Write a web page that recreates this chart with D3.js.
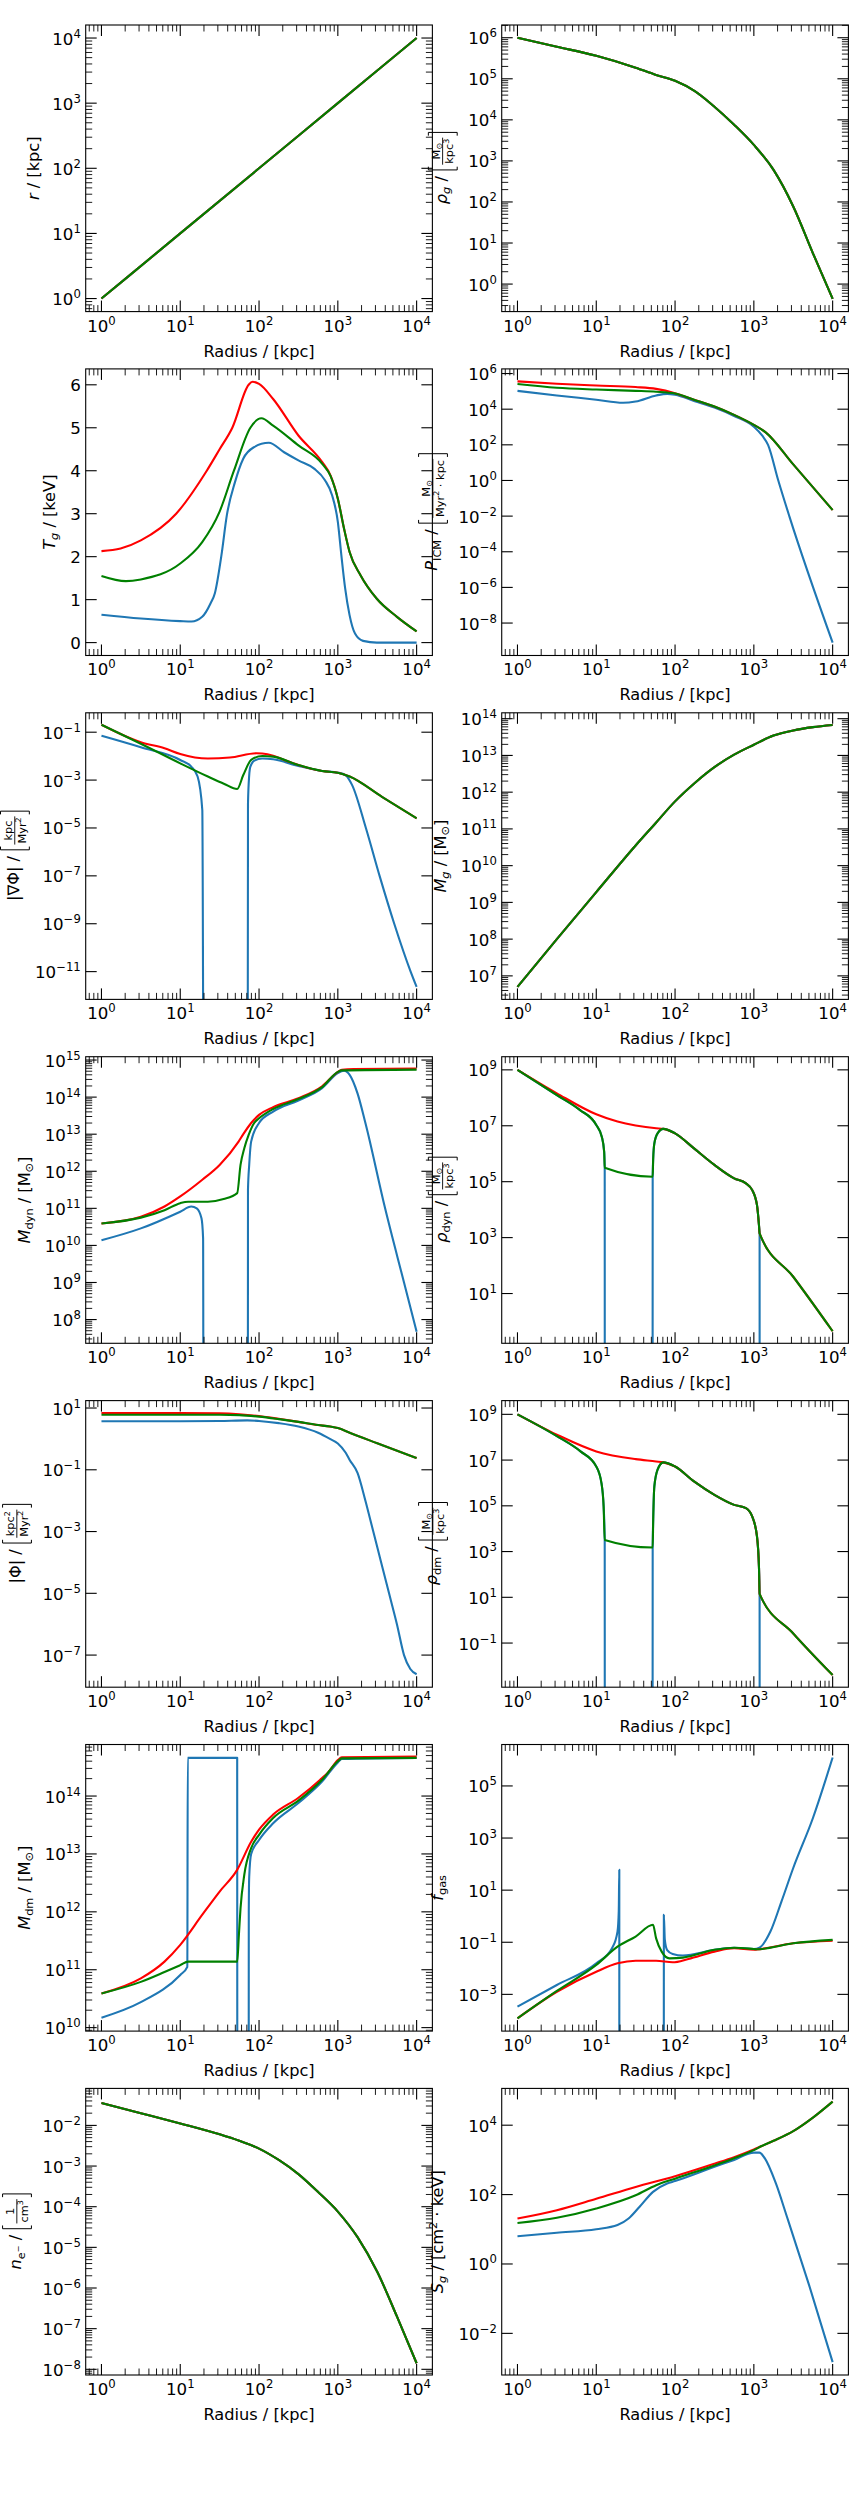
<!DOCTYPE html>
<html><head><meta charset="utf-8">
<script src="https://cdn.jsdelivr.net/npm/d3@7"></script>
<style>body{margin:0;background:#fff}svg{display:block}text{font-family:"DejaVu Sans",sans-serif;fill:#000;white-space:pre}</style>
</head><body>
<svg id="chart" width="857" height="2500"></svg>
<script>
// ---------------- data (radius [kpc], value) ----------------
const xTickExp = [0, 1, 2, 3, 4];
const radiusLine = [[1,1],[10,10],[100,100],[1000,1000],[10000,10000]];
const rhoGas = [[1,1e6],[3.16,6.03e5],[10,3.63e5],[31.6,1.86e5],[56.2,1.26e5],[100,8.91e4],[178,5.01e4],[316,2.09e4],[562,7.59e3],[1000,2.45e3],[1778,603],[3162,77.6],[5623,5.62],[10000,0.437]];
const tempRed = [[1,2.13],[1.75,2.19],[3.16,2.38],[8.87,3.0],[21.7,4.0],[31.6,4.5],[45.8,5.0],[73.8,6.0],[82.6,6.07],[100,6.02],[151,5.67],[316,4.82],[634,4.2],[807,3.89],[1000,3.35],[1200,2.65],[1410,2.11],[1940,1.57],[3125,1.02],[5630,0.6],[10000,0.26]];
const tempGreen = [[1,1.55],[2.04,1.43],[3.16,1.47],[10,1.84],[19,2.34],[31.6,3.05],[48,4.0],[77.6,5.0],[107,5.22],[151,5.05],[316,4.59],[634,4.16],[807,3.88],[1000,3.35],[1200,2.65],[1410,2.11],[1940,1.57],[3125,1.02],[5630,0.6],[10000,0.26]];
const tempBlue = [[1,0.65],[3.16,0.56],[10,0.5],[13.9,0.49],[19,0.6],[24.2,0.91],[27.5,1.15],[33.3,2.03],[39,2.96],[49.6,3.74],[63,4.28],[86.5,4.55],[133,4.65],[208,4.43],[316,4.24],[500,4.05],[687,3.78],[845,3.43],[1000,2.81],[1109,2.03],[1239,1.26],[1409,0.64],[1652,0.21],[2089,0.04],[3126,0],[10000,0]];
const pressRed = [[1,3.63e5],[3.16,2.69e5],[10,2.14e5],[31.6,1.74e5],[57.5,1.38e5],[100,7.94e4],[174,3.39e4],[316,1.41e4],[562,4.79e3],[1000,1.32e3],[1413,501],[3162,7.94],[10000,2.19e-2]];
const pressGreen = [[1,2.57e5],[3.16,1.58e5],[10,1.26e5],[31.6,1.07e5],[57.5,9.55e4],[100,7.59e4],[174,3.39e4],[316,1.41e4],[562,4.79e3],[1000,1.32e3],[1413,501],[3162,7.94],[10000,2.19e-2]];
const pressBlue = [[1,1.07e5],[3.16,5.89e4],[10,3.39e4],[21.9,2.29e4],[31.6,2.69e4],[57.5,5.89e4],[79.4,7.24e4],[100,6.46e4],[178,2.82e4],[316,1.23e4],[562,4.17e3],[1000,1.05e3],[1288,316],[1514,100],[2042,1],[2818,1e-2],[10000,7.94e-10]];
const gradRed = [[1,0.204],[3.16,3.8e-2],[6.31,2.14e-2],[10,1.23e-2],[22.4,7.94e-3],[42.7,8.71e-3],[93.3,1.32e-2],[110,1.29e-2],[151,1.05e-2],[209,6.92e-3],[316,4.27e-3],[631,2.4e-3],[1000,2.04e-3],[1413,1.41e-3],[3631,2.0e-4],[10000,2.51e-5]];
const gradGreen = [[1,0.204],[3.16,3.31e-2],[10,5.01e-3],[22.4,1.41e-3],[36.3,6.92e-4],[52.8,4.27e-4],[63.1,1.62e-3],[79.4,6.92e-3],[110,1.02e-2],[151,9.55e-3],[316,4.27e-3],[631,2.4e-3],[1000,2.04e-3],[1413,1.41e-3],[3631,2.0e-4],[10000,2.51e-5]];
const gradBlue = [[1,7.08e-2],[3.16,2.34e-2],[10,6.92e-3],[13.8,3.63e-3],[16.6,1.41e-3],[19.05,5.62e-5],[19.95,1e-20],[71.6,1e-20],[72.4,1e-4],[75,1.58e-3],[77.6,3.63e-3],[87.1,6.46e-3],[110,7.94e-3],[151,7.41e-3],[316,3.89e-3],[631,2.4e-3],[1000,2.04e-3],[1259,1.58e-3],[1514,6.31e-4],[2270,1e-5],[3388,1e-7],[5200,1e-9],[8395,1e-11],[10000,2.29e-12]];
const massGas = [[1,5.01e6],[3.16,1e8],[10,1.91e9],[31.6,3.55e10],[56.2,1.41e11],[100,5.62e11],[178,1.78e12],[316,4.79e12],[562,1.05e13],[1000,1.95e13],[1778,3.47e13],[3162,4.79e13],[5623,5.89e13],[10000,6.76e13]];
const mdynRed = [[1,3.89e10],[3.16,5.89e10],[6.31,1.12e11],[10,2.09e11],[19.05,5.89e11],[31.6,1.48e12],[55,6.31e12],[63.1,1e13],[79.4,2e13],[100,3.31e13],[151,5.37e13],[316,9.33e13],[631,1.95e14],[1000,4.79e14],[1122,5.5e14],[1585,5.75e14],[10000,5.89e14]];
const mdynGreen = [[1,3.89e10],[3.16,5.62e10],[6.31,8.91e10],[10,1.38e11],[12.6,1.51e11],[22.4,1.51e11],[35.5,1.78e11],[52.8,2.57e11],[58.2,1.48e12],[65,4.17e12],[73.8,9.55e12],[86.7,2e13],[100,2.69e13],[151,4.79e13],[316,8.91e13],[631,1.86e14],[1000,4.79e14],[1122,5.25e14],[10000,5.5e14]];
const mdynBlue = [[1,1.38e10],[3.16,2.88e10],[10,8.13e10],[13.8,1.12e11],[16.2,1e11],[18.6,5.37e10],[19.5,1.55e10],[19.95,1e-5],[71.6,1e-5],[72.4,3.16e11],[75,1.48e12],[79.4,6.31e12],[100,2e13],[151,4.07e13],[316,8.13e13],[631,1.74e14],[1000,4.47e14],[1202,5.13e14],[1413,3.98e14],[1778,1.26e14],[2239,2e13],[3981,1e11],[6918,1e9],[10000,4.68e7]];
const rhoDynRed = [[1,1e9],[3.16,1.45e8],[10,2.57e7],[18.6,1.41e7],[31.6,1.02e7],[57.5,8.13e6],[70.8,7.76e6],[100,5.37e6],[174,1.55e6],[316,3.98e5],[562,1.32e5],[794,8.71e4],[955,5.01e4],[1096,1.45e4],[1161,2.82e3],[1183,1.41e3],[3162,39.8],[10000,0.447]];
const rhoDynGreen = [[1,1e9],[3.16,1.26e8],[6.17,3.72e7],[10,1.07e7],[11.75,4.07e6],[12.6,1.17e6],[12.8,3.16e5],[52,1.51e5],[52.8,6.92e5],[54.6,2.34e6],[60,5.37e6],[70.8,7.76e6],[100,5.37e6],[174,1.55e6],[316,3.98e5],[562,1.32e5],[794,8.71e4],[955,5.01e4],[1096,1.45e4],[1161,2.82e3],[1183,1.41e3],[3162,39.8],[10000,0.447]];
const rhoDynBlue = [[1,1e9],[3.16,1.26e8],[6.17,3.72e7],[10,1.07e7],[11.75,4.07e6],[12.6,1.17e6],[12.8,3.16e5],[12.85,1e-10],[51.8,1e-10],[52,1.51e5],[52.8,6.92e5],[54.6,2.34e6],[60,5.37e6],[70.8,7.76e6],[100,5.37e6],[174,1.55e6],[316,3.98e5],[562,1.32e5],[794,8.71e4],[955,5.01e4],[1096,1.45e4],[1161,2.82e3],[1183,1.41e3],[1186,1e-10]];
const phiRed = [[1,6.92],[10,6.92],[31.6,6.76],[56.2,6.31],[100,5.5],[178,4.47],[316,3.55],[562,2.82],[794,2.51],[1000,2.24],[1413,1.58],[3162,0.724],[10000,0.24]];
const phiGreen = [[1,6.03],[10,6.03],[31.6,6.03],[56.2,5.89],[100,5.25],[178,4.37],[316,3.55],[562,2.82],[794,2.51],[1000,2.24],[1413,1.58],[3162,0.724],[10000,0.24]];
const phiBlue = [[1,3.72],[10,3.72],[31.6,3.8],[70.8,3.98],[100,3.8],[178,3.24],[316,2.51],[562,1.58],[794,1.0],[1000,0.708],[1259,0.355],[1413,0.209],[1778,7.94e-2],[2239,1e-2],[2818,1e-3],[3548,1e-4],[4467,1e-5],[5623,1e-6],[6918,1e-7],[8318,3.55e-8],[10000,2.4e-8]];
const rhoDmRed = [[1,1e9],[3.16,1.29e8],[10,2.4e7],[31.6,1.1e7],[57.5,8.71e6],[70.8,7.94e6],[100,5.25e6],[174,1.17e6],[316,3.02e5],[562,1.1e5],[794,7.94e4],[955,3.39e4],[1096,4.57e3],[1161,219],[1183,14.1],[3162,0.263],[10000,3.98e-3]];
const rhoDmGreen = [[1,1e9],[3.16,1.12e8],[6.31,2.4e7],[10,5.25e6],[11.64,9.77e5],[12.4,9.33e4],[12.8,3.24e3],[52,1.51e3],[52.8,2.45e4],[54.6,7.08e5],[60,3.8e6],[70.8,7.94e6],[100,5.25e6],[174,1.17e6],[316,3.02e5],[562,1.1e5],[794,7.94e4],[955,3.39e4],[1096,4.57e3],[1161,219],[1183,14.1],[3162,0.263],[10000,3.98e-3]];
const rhoDmBlue = [[1,1e9],[3.16,1.12e8],[6.31,2.4e7],[10,5.25e6],[11.64,9.77e5],[12.4,9.33e4],[12.8,3.24e3],[12.85,1e-10],[51.8,1e-10],[52,1.51e3],[52.8,2.45e4],[54.6,7.08e5],[60,3.8e6],[70.8,7.94e6],[100,5.25e6],[174,1.17e6],[316,3.02e5],[562,1.1e5],[794,7.94e4],[955,3.39e4],[1096,4.57e3],[1161,219],[1183,14.1],[1186,1e-10]];
const mdmRed = [[1,3.89e10],[3.16,7.08e10],[6.31,1.38e11],[10,2.69e11],[19.05,8.91e11],[31.6,2.24e12],[52.5,5.25e12],[79.4,1.62e13],[100,2.63e13],[151,4.79e13],[316,9.33e13],[631,2.04e14],[741,2.51e14],[1000,4.17e14],[1122,4.68e14],[10000,4.79e14]];
const mdmGreen = [[1,3.89e10],[3.16,6.17e10],[6.31,9.12e10],[10,1.2e11],[12.6,1.38e11],[52.8,1.38e11],[55.5,3.98e11],[58.2,1.15e12],[65,4.37e12],[79.4,1.26e13],[100,2.14e13],[151,4.17e13],[316,8.32e13],[631,1.91e14],[1000,3.98e14],[1122,4.47e14],[10000,4.57e14]];
const mdmBlue = [[1,1.48e10],[3.16,2.75e10],[10,8.13e10],[12.3,1.12e11],[12.45,4.57e14],[52.8,4.57e14],[53.1,1e5],[73.8,1e5],[74.1,1e12],[75,3.98e12],[79.4,1e13],[100,1.74e13],[151,3.39e13],[316,7.59e13],[631,1.78e14],[1000,3.8e14],[1122,4.37e14],[10000,4.57e14]];
const fgasRed = [[1,1.2e-4],[3.16,1.26e-3],[10,7.41e-3],[18.6,1.55e-2],[31.6,1.95e-2],[57.5,1.95e-2],[93.3,1.7e-2],[148,2.29e-2],[316,4.37e-2],[562,5.89e-2],[1000,5.13e-2],[1096,5.25e-2],[3162,9.12e-2],[10000,0.115]];
const fgasGreen = [[1,1.2e-4],[3.16,1.35e-3],[10,1.35e-2],[18.6,6.76e-2],[31.6,0.166],[52.5,0.468],[57.5,0.141],[67.6,4.37e-2],[85.1,2.4e-2],[126,2.57e-2],[316,5.13e-2],[562,6.17e-2],[1000,5.5e-2],[1096,5.37e-2],[3162,9.12e-2],[10000,0.123]];
const fgasBlue = [[1,3.39e-4],[3.16,2.29e-3],[10,1.55e-2],[15.85,5.89e-2],[18.6,0.257],[19.3,1.58],[19.6,60.3],[19.62,1e-10],[71.9,1e-10],[72.1,1.12],[74.1,0.126],[79.4,5.01e-2],[93.3,3.55e-2],[126,3.09e-2],[316,5.13e-2],[562,6.17e-2],[1000,5.5e-2],[1175,6.17e-2],[1622,0.257],[2239,3.63],[3162,70.8],[5623,5.89e3],[10000,1.23e6]];
const neData = [[1,3.55e-2],[3.16,2.0e-2],[10,1.12e-2],[31.6,6.03e-3],[56.2,4.17e-3],[100,2.69e-3],[178,1.41e-3],[316,6.31e-4],[562,2.29e-4],[1000,7.59e-5],[1778,1.78e-5],[3162,2.51e-6],[5623,2.0e-7],[10000,1.41e-8]];
const entRed = [[1,20.4],[3.16,35.5],[10,75.9],[31.6,166],[100,339],[316,776],[562,1.2e3],[1000,2.0e3],[1259,2.51e3],[1778,3.55e3],[3162,6.76e3],[5623,1.66e4],[10000,4.79e4]];
const entGreen = [[1,15.1],[3.16,21.4],[10,39.8],[31.6,95.5],[57.5,186],[100,288],[316,692],[562,1.12e3],[1000,1.91e3],[1259,2.51e3],[1778,3.55e3],[3162,6.76e3],[5623,1.66e4],[10000,4.79e4]];
const entBlue = [[1,6.31],[3.16,7.94],[10,10],[18.6,13.2],[25.7,20.4],[35.5,44.7],[52.5,120],[79.4,209],[100,245],[316,631],[562,1e3],[1000,1.62e3],[1175,1.62e3],[1380,1.1e3],[1905,209],[2630,22.9],[5012,0.251],[10000,1.48e-3]];

// tick label exponents per panel
const ticksR = [0,1,2,3,4];
const ticksRhoG = [0,1,2,3,4,5,6];
const ticksT = [0,1,2,3,4,5,6];
const ticksP = [-8,-6,-4,-2,0,2,4,6];
const ticksGrad = [-11,-9,-7,-5,-3,-1];
const ticksMg = [7,8,9,10,11,12,13,14];
const ticksMdyn = [8,9,10,11,12,13,14,15];
const ticksRhoDyn = [1,3,5,7,9];
const ticksPhi = [-7,-5,-3,-1,1];
const ticksRhoDm = [-1,1,3,5,7,9];
const ticksMdm = [10,11,12,13,14];
const ticksFgas = [-3,-1,1,3,5];
const ticksNe = [-8,-7,-6,-5,-4,-3,-2];
const ticksS = [-2,0,2,4];

// axis labels (math tokens)
const FRAC_MSUN_KPC3 = ['frac', [['t','M'],['sub','⊙']], [['t','kpc'],['sup','3']]];
const labR = [['t','r',1],['t',' / [kpc]']];
const labRhoG = [['t','ρ',1],['sub','g',1],['t',' / '],FRAC_MSUN_KPC3];
const labT = [['t','T',1],['sub','g',1],['t',' / [keV]']];
const labP = [['t','P',1],['sub','ICM'],['t',' / '],['frac', [['t','M'],['sub','⊙']], [['t','Myr'],['sup','2'],['t',' · kpc']]]];
const labGrad = [['t','|∇Φ|'],['t',' / '],['frac', [['t','kpc']], [['t','Myr'],['sup','2']]]];
const labMg = [['t','M',1],['sub','g',1],['t',' / [M'],['sub','⊙'],['t',']']];
const labMdyn = [['t','M',1],['sub','dyn'],['t',' / [M'],['sub','⊙'],['t',']']];
const labRhoDyn = [['t','ρ',1],['sub','dyn'],['t',' / '],FRAC_MSUN_KPC3];
const labPhi = [['t','|Φ|'],['t',' / '],['frac', [['t','kpc'],['sup','2']], [['t','Myr'],['sup','2']]]];
const labRhoDm = [['t','ρ',1],['sub','dm'],['t',' / '],FRAC_MSUN_KPC3];
const labMdm = [['t','M',1],['sub','dm'],['t',' / [M'],['sub','⊙'],['t',']']];
const labFgas = [['t','f',1],['sub','gas']];
const labNe = [['t','n',1],['sub','e'],['subsup','−'],['t',' / '],['frac', [['t','1']], [['t','cm'],['sup','3']]]];
const labS = [['t','S',1],['sub','g',1],['t',' / [cm'],['sup','2'],['t',' · keV]']];

const P = (a,b) => [Math.pow(10,a), Math.pow(10,b)];
const panels = [
 {row:0,col:0,yDomain:P(-0.2,4.2),ticks:ticksR,minor:true,label:labR,series:[[radiusLine,'blue'],[radiusLine,'red'],[radiusLine,'green']]},
 {row:0,col:1,yDomain:P(-0.67,6.31),ticks:ticksRhoG,minor:true,label:labRhoG,series:[[rhoGas,'blue'],[rhoGas,'red'],[rhoGas,'green']]},
 {row:1,col:0,yDomain:[-0.30,6.37],linear:true,ticks:ticksT,label:labT,series:[[tempBlue,'blue'],[tempRed,'red'],[tempGreen,'green']]},
 {row:1,col:1,yDomain:P(-9.82,6.26),ticks:ticksP,label:labP,series:[[pressBlue,'blue'],[pressRed,'red'],[pressGreen,'green']]},
 {row:2,col:0,yDomain:P(-12.16,-0.19),ticks:ticksGrad,label:labGrad,series:[[gradBlue,'blue'],[gradRed,'red'],[gradGreen,'green']]},
 {row:2,col:1,yDomain:P(6.36,14.16),ticks:ticksMg,minor:true,label:labMg,series:[[massGas,'blue'],[massGas,'red'],[massGas,'green']]},
 {row:3,col:0,yDomain:P(7.36,15.09),ticks:ticksMdyn,minor:true,label:labMdyn,series:[[mdynBlue,'blue'],[mdynRed,'red'],[mdynGreen,'green']]},
 {row:3,col:1,yDomain:P(-0.78,9.47),ticks:ticksRhoDyn,label:labRhoDyn,series:[[rhoDynBlue,'blue'],[rhoDynRed,'red'],[rhoDynGreen,'green']]},
 {row:4,col:0,yDomain:P(-8.04,1.24),ticks:ticksPhi,label:labPhi,series:[[phiBlue,'blue'],[phiRed,'red'],[phiGreen,'green']]},
 {row:4,col:1,yDomain:P(-2.93,9.6),ticks:ticksRhoDm,label:labRhoDm,series:[[rhoDmBlue,'blue'],[rhoDmRed,'red'],[rhoDmGreen,'green']]},
 {row:5,col:0,yDomain:P(9.94,14.89),ticks:ticksMdm,minor:true,label:labMdm,series:[[mdmBlue,'blue'],[mdmRed,'red'],[mdmGreen,'green']]},
 {row:5,col:1,yDomain:P(-4.41,6.59),ticks:ticksFgas,label:labFgas,series:[[fgasBlue,'blue'],[fgasRed,'red'],[fgasGreen,'green']]},
 {row:6,col:0,yDomain:P(-8.14,-1.09),ticks:ticksNe,minor:true,label:labNe,series:[[neData,'blue'],[neData,'red'],[neData,'green']]},
 {row:6,col:1,yDomain:P(-3.2,5.06),ticks:ticksS,label:labS,series:[[entBlue,'blue'],[entRed,'red'],[entGreen,'green']]}
];

// ---------------- layout ----------------
const svg = d3.select('#chart');
const FS = 16.67, LFS = 16.2;
const LEFT = 85.7, RIGHT = 848.4, TOP = 25, BOTTOM = 2375;
const W = (RIGHT - LEFT) / 2.2, H = (BOTTOM - TOP) / 8.2;
const GX = 0.2 * W, GY = 0.2 * H;
const COLORS = {blue:'#1f77b4', red:'#ff0000', green:'#008000'};
const MAJ = 11, MIN = 6.5;
const xDomain = P(-0.2, 4.2);

function supText(sel, base, e) {
  sel.append('tspan').text(base);
  sel.append('tspan').attr('font-size', FS * 0.7).attr('dy', -0.42 * FS).text(e < 0 ? '−' + (-e) : String(e));
}

function buildMath(g, tokens, fs) {
  let x = 0;
  const txt = (str, size, dy, italic) => {
    const t = g.append('text').attr('x', x).attr('y', dy).attr('font-size', size)
      .text(str.replace(/ /g, '\u00a0'));
    if (italic) t.attr('font-style', 'italic');
    x += t.node().getComputedTextLength();
  };
  for (const tok of tokens) {
    const k = tok[0];
    if (k === 't') txt(tok[1], fs, 0, tok[2]);
    else if (k === 'sub') txt(tok[1], fs * 0.7, fs * 0.2, tok[2]);
    else if (k === 'sup') txt(tok[1], fs * 0.7, -fs * 0.38, tok[2]);
    else if (k === 'subsup') txt(tok[1], fs * 0.5, -fs * 0.02);
    else if (k === 'frac') {
      const fsF = fs * 0.7, axisY = -0.28 * fs;
      const top = axisY - 0.88 * fs, bot = axisY + 0.9 * fs, br = 0.2 * fs;
      g.append('path').attr('d', `M${x + 1 + br},${top}H${x + 1}V${bot}H${x + 1 + br}`)
        .attr('fill', 'none').attr('stroke', '#000').attr('stroke-width', 1);
      x += br + 3;
      const ng = g.append('g'), dg = g.append('g');
      const nw = buildMath(ng, tok[1], fsF), dw = buildMath(dg, tok[2], fsF);
      const fw = Math.max(nw, dw) + 2;
      ng.attr('transform', `translate(${x + (fw - nw) / 2},${axisY - 0.17 * fs})`);
      dg.attr('transform', `translate(${x + (fw - dw) / 2},${axisY + 0.15 * fs + 0.74 * fsF})`);
      g.append('line').attr('x1', x).attr('x2', x + fw).attr('y1', axisY).attr('y2', axisY)
        .attr('stroke', '#000').attr('stroke-width', 0.9);
      x += fw + 2;
      g.append('path').attr('d', `M${x},${top}H${x + br}V${bot}H${x}`)
        .attr('fill', 'none').attr('stroke', '#000').attr('stroke-width', 1);
      x += br + 2;
    }
  }
  return x;
}

panels.forEach((p, idx) => {
  const x0 = LEFT + p.col * (W + GX), y0 = TOP + p.row * (H + GY);
  const xs = d3.scaleLog().domain(xDomain).range([x0, x0 + W]);
  const ys = (p.linear ? d3.scaleLinear() : d3.scaleLog()).domain(p.yDomain).range([y0 + H, y0]);
  const g = svg.append('g');

  const cid = 'clip' + idx;
  svg.append('clipPath').attr('id', cid).append('rect')
    .attr('x', x0).attr('y', y0).attr('width', W).attr('height', H);
  const line = d3.line().x(d => xs(d[0])).y(d => ys(d[1])).curve(d3.curveMonotoneX);
  const lg = g.append('g').attr('clip-path', `url(#${cid})`);
  p.series.forEach(([data, c]) => {
    lg.append('path').attr('d', line(data)).attr('fill', 'none')
      .attr('stroke', COLORS[c]).attr('stroke-width', 2.1).attr('stroke-linejoin', 'round');
  });

  const tk = g.append('g').attr('stroke', '#000');
  const xMaj = xTickExp.map(e => Math.pow(10, e));
  const xMin = [];
  for (let k = -1; k <= 4; k++) for (let m = 2; m <= 9; m++) {
    const v = m * Math.pow(10, k);
    if (v > xDomain[0] && v < xDomain[1]) xMin.push(v);
  }
  xMaj.forEach(v => {
    const X = xs(v);
    tk.append('line').attr('x1', X).attr('x2', X).attr('y1', y0 + H).attr('y2', y0 + H - MAJ).attr('stroke-width', 1.1);
    tk.append('line').attr('x1', X).attr('x2', X).attr('y1', y0).attr('y2', y0 + MAJ).attr('stroke-width', 1.1);
  });
  xMin.forEach(v => {
    const X = xs(v);
    tk.append('line').attr('x1', X).attr('x2', X).attr('y1', y0 + H).attr('y2', y0 + H - MIN).attr('stroke-width', 0.9);
    tk.append('line').attr('x1', X).attr('x2', X).attr('y1', y0).attr('y2', y0 + MIN).attr('stroke-width', 0.9);
  });
  const yMaj = p.linear ? p.ticks : p.ticks.map(e => Math.pow(10, e));
  yMaj.forEach(v => {
    const Y = ys(v);
    tk.append('line').attr('x1', x0).attr('x2', x0 + MAJ).attr('y1', Y).attr('y2', Y).attr('stroke-width', 1.1);
    tk.append('line').attr('x1', x0 + W - MAJ).attr('x2', x0 + W).attr('y1', Y).attr('y2', Y).attr('stroke-width', 1.1);
  });
  if (p.minor) {
    const lo = Math.floor(Math.log10(p.yDomain[0])), hi = Math.ceil(Math.log10(p.yDomain[1]));
    for (let k = lo; k <= hi; k++) for (let m = 2; m <= 9; m++) {
      const v = m * Math.pow(10, k);
      if (v <= p.yDomain[0] || v >= p.yDomain[1]) continue;
      const Y = ys(v);
      tk.append('line').attr('x1', x0).attr('x2', x0 + MIN).attr('y1', Y).attr('y2', Y).attr('stroke-width', 0.9);
      tk.append('line').attr('x1', x0 + W - MIN).attr('x2', x0 + W).attr('y1', Y).attr('y2', Y).attr('stroke-width', 0.9);
    }
  }
  g.append('rect').attr('x', x0).attr('y', y0).attr('width', W).attr('height', H)
    .attr('fill', 'none').attr('stroke', '#000').attr('stroke-width', 1.1);

  xTickExp.forEach(e => {
    const t = g.append('text').attr('x', xs(Math.pow(10, e))).attr('y', y0 + H + 20)
      .attr('text-anchor', 'middle').attr('font-size', FS);
    supText(t, '10', e);
  });
  const ytl = g.append('g');
  p.ticks.forEach(e => {
    const v = p.linear ? e : Math.pow(10, e);
    const t = ytl.append('text').attr('x', x0 - 4.9).attr('y', ys(v) + 6.5)
      .attr('text-anchor', 'end').attr('font-size', FS);
    if (p.linear) t.text(String(e)); else supText(t, '10', e);
  });

  g.append('text').attr('x', x0 + W / 2).attr('y', y0 + H + 45).attr('text-anchor', 'middle')
    .attr('font-size', LFS).text('Radius / [kpc]');

  const lab = svg.append('g');
  const inner = lab.append('g');
  buildMath(inner, p.label, LFS);
  const b = inner.node().getBBox();
  const tb = ytl.node().getBBox();
  const hasFrac = p.label.some(t => t[0] === 'frac');
  const R = Math.max(tb.x - (hasFrac ? 11 : 9), b.height + 0.5);
  const cy = y0 + H / 2;
  lab.attr('transform', `translate(${R - b.y - b.height},${cy + b.x + b.width / 2}) rotate(-90)`);
});
</script>
</body></html>
